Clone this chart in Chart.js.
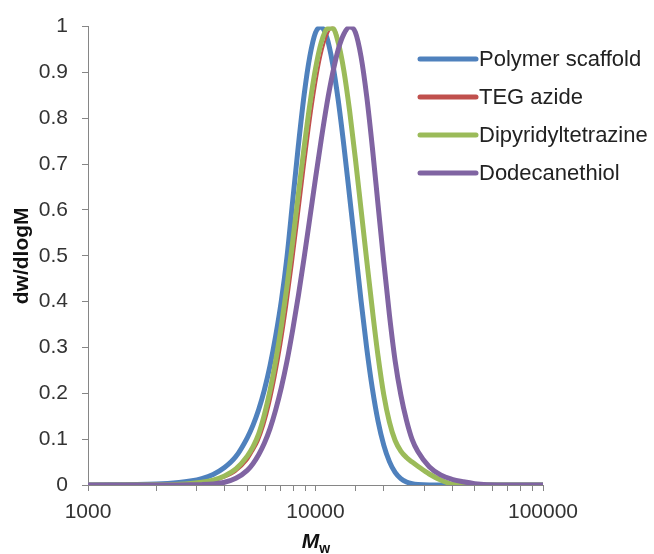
<!DOCTYPE html>
<html>
<head>
<meta charset="utf-8">
<script src="https://cdn.jsdelivr.net/npm/chart.js@4"></script>
<style>
  html, body { margin: 0; padding: 0; background: #fff; }
  #wrap { width: 654px; height: 554px; position: relative; }
</style>
</head>
<body>
<div id="wrap"><canvas id="c" width="654" height="554"></canvas></div>
<script>
// Molecular weight grid (x values)
const mw = [1000, 1995, 2512, 2818, 3162, 3548, 3981, 4467,
  5012, 5309, 5623, 5957, 6310, 6683, 7079, 7499, 7943, 8414, 8913, 9441,
  10000, 10593, 11220, 11885, 12589, 13335, 14125, 14962, 15849, 16788, 17783,
  18836, 19953, 21135, 22387, 23714, 25119, 26607, 28184,
  31623, 35481, 39811, 44668, 50119, 63096, 100000];

const polymerScaffold = [0, 0.002, 0.0054, 0.0087, 0.014, 0.023, 0.038, 0.062,
  0.103, 0.130, 0.164, 0.207, 0.260, 0.325, 0.402, 0.499, 0.621, 0.742, 0.851, 0.935,
  0.987, 0.999, 0.976, 0.920, 0.839, 0.739, 0.629, 0.517, 0.403, 0.299, 0.210,
  0.139, 0.087, 0.051, 0.0275, 0.0139, 0.0064, 0.0027, 0.001,
  0, 0, 0, 0, 0, 0, 0];

const tegAzide = [0, 0.0005, 0.0014, 0.0025, 0.0045, 0.0085, 0.016, 0.029,
  0.053, 0.073, 0.096, 0.131, 0.178, 0.237, 0.307, 0.389, 0.482, 0.582, 0.684, 0.782,
  0.867, 0.935, 0.979, 0.999, 0.975, 0.910, 0.820, 0.712, 0.598, 0.486, 0.376,
  0.275, 0.192, 0.133, 0.094, 0.072, 0.058, 0.048, 0.039,
  0.022, 0.010, 0.002, 0, 0, 0, 0];

const dipyridyltetrazine = [0, 0.0007, 0.0018, 0.0033, 0.0059, 0.0108, 0.0196, 0.035,
  0.063, 0.083, 0.111, 0.153, 0.206, 0.271, 0.347, 0.435, 0.532, 0.636, 0.737, 0.830,
  0.908, 0.965, 0.995, 0.997, 0.965, 0.903, 0.816, 0.713, 0.602, 0.491, 0.382,
  0.281, 0.197, 0.137, 0.097, 0.074, 0.060, 0.050, 0.041,
  0.024, 0.011, 0.002, 0, 0, 0, 0];

const dodecanethiol = [0, 0, 0.0001, 0.0003, 0.0008, 0.0023, 0.0061, 0.0146,
  0.032, 0.0465, 0.066, 0.091, 0.123, 0.164, 0.213, 0.271, 0.339, 0.414, 0.496, 0.582,
  0.669, 0.753, 0.831, 0.897, 0.950, 0.984, 0.999, 0.988, 0.935, 0.848, 0.736,
  0.611, 0.487, 0.371, 0.271, 0.197, 0.141, 0.099, 0.073,
  0.040, 0.022, 0.0125, 0.007, 0.003, 0, 0];

const seriesNames = ['Polymer scaffold', 'TEG azide', 'Dipyridyltetrazine', 'Dodecanethiol'];
const seriesColors = ['#4F81BD', '#C0504D', '#9BBB59', '#8064A2'];
const seriesWidths = [5, 2, 5, 5];
const seriesValues = [polymerScaffold, tegAzide, dipyridyltetrazine, dodecanethiol];

const yTickLabels = ['0', '0.1', '0.2', '0.3', '0.4', '0.5', '0.6', '0.7', '0.8', '0.9', '1'];
const xMajorTicks = [1000, 10000, 100000];

const FONT = '"Liberation Sans", Arial, sans-serif';
const AXIS_COLOR = '#868686';
const TEXT_COLOR = '#333333';

const datasets = seriesValues.map((vals, i) => ({
  label: seriesNames[i],
  data: mw.map((m, k) => ({ x: m, y: vals[k] })),
  borderColor: seriesColors[i],
  backgroundColor: seriesColors[i],
  borderWidth: seriesWidths[i],
  pointRadius: 0,
  fill: false,
  cubicInterpolationMode: 'monotone',
  borderCapStyle: 'round',
  borderJoinStyle: 'round',
  order: seriesValues.length - i
}));

const legendPlugin = {
  id: 'customLegend',
  afterDraw(chart) {
    const ctx = chart.ctx;
    ctx.save();
    const x0 = 420, x1 = 476, tx = 479, y0 = 59, dy = 38;
    chart.data.datasets.forEach((ds, i) => {
      const y = y0 + i * dy;
      ctx.strokeStyle = ds.borderColor;
      ctx.lineWidth = 5;
      ctx.lineCap = 'round';
      ctx.beginPath();
      ctx.moveTo(x0, y);
      ctx.lineTo(x1, y);
      ctx.stroke();
      ctx.fillStyle = '#222222';
      ctx.font = '22px ' + FONT;
      ctx.textAlign = 'left';
      ctx.textBaseline = 'middle';
      ctx.fillText(ds.label, tx, y + 1);
    });
    ctx.restore();
  }
};

const xTitlePlugin = {
  id: 'xTitle',
  afterDraw(chart) {
    const ctx = chart.ctx;
    ctx.save();
    ctx.fillStyle = '#111111';
    ctx.textBaseline = 'alphabetic';
    ctx.textAlign = 'left';
    ctx.font = 'italic bold 21px ' + FONT;
    const m = 'M';
    const mW = ctx.measureText(m).width;
    ctx.font = 'bold 14px ' + FONT;
    const wW = ctx.measureText('w').width;
    const startX = 316 - (mW + wW) / 2;
    ctx.font = 'italic bold 21px ' + FONT;
    ctx.fillText(m, startX, 548);
    ctx.font = 'bold 14px ' + FONT;
    ctx.fillText('w', startX + mW, 553);
    ctx.restore();
  }
};

new Chart(document.getElementById('c'), {
  type: 'line',
  data: { datasets },
  plugins: [legendPlugin, xTitlePlugin],
  options: {
    responsive: false,
    animation: false,
    events: [],
    layout: { padding: { left: 0, top: 25, right: 111, bottom: 0 } },
    plugins: { legend: { display: false }, tooltip: { enabled: false } },
    scales: {
      x: {
        type: 'logarithmic',
        min: 1000,
        max: 100000,
        afterFit(scale) { scale.height = 69; },
        grid: { display: true, drawOnChartArea: false, drawTicks: true, tickLength: 6, color: AXIS_COLOR, lineWidth: 1 },
        border: { display: true, color: AXIS_COLOR, width: 1 },
        ticks: {
          autoSkip: false,
          maxRotation: 0,
          minRotation: 0,
          padding: 9,
          color: TEXT_COLOR,
          font: { family: FONT, size: 21 },
          callback(value) { return xMajorTicks.includes(value) ? String(value) : ''; }
        }
      },
      y: {
        type: 'linear',
        min: 0,
        max: 1,
        afterFit(scale) { scale.width = 88; },
        grid: { display: true, drawOnChartArea: false, drawTicks: true, tickLength: 6, color: AXIS_COLOR, lineWidth: 1 },
        border: { display: true, color: AXIS_COLOR, width: 1 },
        ticks: {
          stepSize: 0.1,
          padding: 14,
          color: TEXT_COLOR,
          font: { family: FONT, size: 21 },
          callback(value, index) { return yTickLabels[index]; }
        },
        title: {
          display: true,
          text: 'dw/dlogM',
          color: '#111111',
          font: { family: FONT, size: 21, weight: 'bold' },
          padding: { top: 10, bottom: 0 }
        }
      }
    }
  }
});
</script>
</body>
</html>
